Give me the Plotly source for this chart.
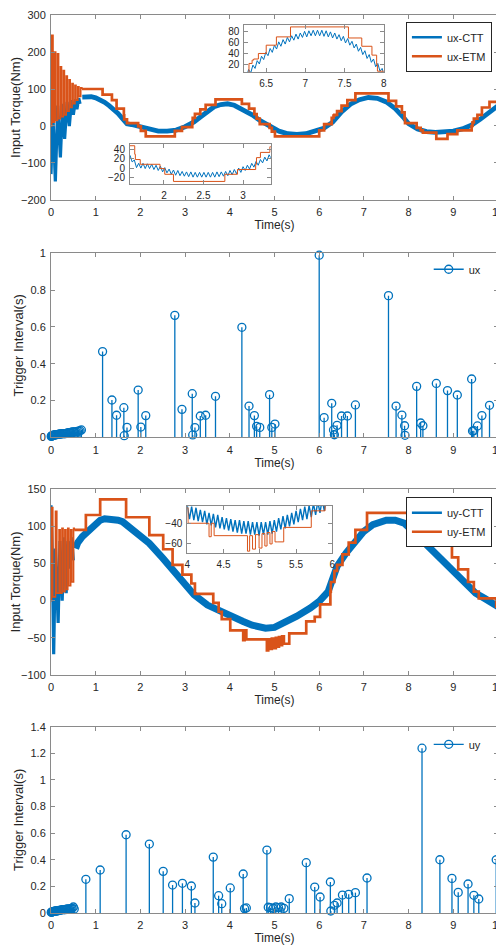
import numpy as np
import plotly.graph_objects as go

# ---------------- data ----------------
# Panel 1: ux input torque
ux_ctt_t = [0, 0.04, 0.097, 0.15, 0.21, 0.26, 0.305, 0.36, 0.41, 0.46,
            0.5, 0.55, 0.58, 0.62, 0.65, 0.7, 0.8, 0.9, 1.0, 1.1,
            1.2, 1.3, 1.4, 1.5, 1.6, 1.7, 1.8, 1.9, 2.0, 2.2,
            2.4, 2.6, 2.8, 3.0, 3.2, 3.35, 3.5, 3.65, 3.8, 3.95,
            4.1, 4.3, 4.5, 4.7, 4.9, 5.1, 5.3, 5.5, 5.7, 5.9,
            6.1, 6.3, 6.5, 6.7, 6.9, 7.1, 7.3, 7.5, 7.7, 7.9,
            8.0, 8.2, 8.4, 8.6, 8.8, 9.0, 9.2, 9.4, 9.6, 9.8, 10.0]
ux_ctt_v = [-130, 40, -150, 55, -85, 60, -35, 65, 0, 70,
            30, 72, 45, 75, 60, 78, 80, 79, 76, 71,
            64, 55, 45, 34, 20, 6, 4, 1, -4, -11,
            -14, -14, -11, -2, 11, 25, 40, 52, 58, 60,
            56, 44, 30, 13, -2, -14, -21, -23, -21, -15,
            -6, 10, 38, 59, 71, 77, 75, 65, 47, 21,
            6, -8, -15, -17, -17, -14, -8, 2, 18, 38, 55]
ux_etm_t = [0, 0.015, 0.045, 0.08, 0.105, 0.145, 0.17, 0.21, 0.235, 0.275,
            0.30, 0.34, 0.365, 0.405, 0.43, 0.47, 0.495, 0.535, 0.56, 0.60,
            0.625, 0.665, 0.69, 1.154,
            1.363, 1.467, 1.63, 1.638, 1.70, 1.95, 2.01, 2.12, 2.77, 2.93,
            3.16, 3.17, 3.22, 3.34, 3.46, 3.68, 4.27, 4.43, 4.55, 4.60,
            4.67, 4.89, 4.94, 5.01, 6.00, 6.11, 6.28, 6.32, 6.34, 6.40,
            6.50, 6.63, 6.81, 7.55, 7.72, 7.85, 7.91, 7.92, 8.18, 8.27,
            8.32, 8.62, 8.87, 9.09, 9.41, 9.43, 9.46, 9.54, 9.64, 9.81, 10.0]
ux_etm_v = [0, 245, 10, 200, 15, 195, 20, 160, 25, 150,
            30, 135, 40, 125, 50, 115, 60, 110, 70, 106,
            80, 103, 100, 85,
            70, 47, 29, 18, 8, -1, -13, -28, -13, -3,
            8, 22, 33, 45, 57, 72, 60, 47, 32, 20,
            5, -5, -15, -28, -12, 5, 22, 28, 30, 40,
            55, 70, 88, 68, 53, 37, 20, 8, -5, -12,
            -18, -35, -22, -12, 0, 10, 20, 30, 50, 65, 65]

# fine (zoomed) ux-CTT ripple shown in the two insets
ux_fine_a_t0, ux_fine_a_dt = 6.22, 0.0275
ux_fine_a = [3, -3, 11, 5, 19, 13, 27, 21, 35, 29,
             42, 36, 49, 42, 55, 48, 61, 53, 65, 57,
             69, 61, 72, 64, 75, 66, 77, 69, 80, 70,
             81, 72, 82, 72, 82, 72, 82, 71, 81, 70,
             79, 68, 77, 66, 74, 63, 71, 59, 67, 55,
             62, 50, 57, 44, 51, 38, 45, 31, 38, 24,
             30, 16, 22, 8, 13, -1]
ux_fine_b_t0, ux_fine_b_dt = 1.57, 0.0275
ux_fine_b = [27, 13, 17, 1, 10, 0, 10, -1, 9, -1,
             8, -3, 6, -5, 4, -8, 1, -10, -2, -13,
             -4, -15, -5, -16, -7, -17, -8, -18, -8, -19,
             -9, -19, -9, -19, -9, -19, -9, -19, -9, -19,
             -8, -18, -8, -17, -7, -16, -5, -14, -3, -12,
             0, -9, 3, -5, 6, -2, 10, 2, 14, 6,
             18, 11, 23, 15, 28, 20]

# Panel 2: ux trigger intervals
ux_early_t = [0.005, 0.012, 0.02, 0.03, 0.04, 0.05, 0.065, 0.08, 0.095, 0.11,
              0.125, 0.14, 0.16, 0.18, 0.2, 0.22, 0.24, 0.26, 0.28, 0.3,
              0.32, 0.345, 0.37, 0.395, 0.42, 0.445, 0.47, 0.5, 0.53, 0.56,
              0.59, 0.62, 0.65, 0.68]
ux_early_v = [0.005, 0.007, 0.008, 0.01, 0.01, 0.01, 0.012, 0.012, 0.014, 0.015,
              0.015, 0.015, 0.016, 0.017, 0.018, 0.018, 0.019, 0.02, 0.02, 0.02,
              0.02, 0.022, 0.024, 0.025, 0.025, 0.026, 0.03, 0.03, 0.03, 0.03,
              0.032, 0.034, 0.036, 0.04]
ux_trig_t = [1.154, 1.363, 1.467, 1.63, 1.638, 1.70, 1.95, 2.01, 2.12, 2.77,
             2.93, 3.16, 3.17, 3.22, 3.34, 3.46, 3.68, 4.27, 4.43, 4.55,
             4.60, 4.67, 4.89, 4.94, 5.01, 6.00, 6.11, 6.28, 6.32, 6.34,
             6.40, 6.50, 6.63, 6.81, 7.55, 7.72, 7.85, 7.91, 7.92, 8.18,
             8.27, 8.32, 8.62, 8.87, 9.09, 9.41, 9.43, 9.46, 9.54, 9.64, 9.81]
ux_trig_v = [0.466, 0.203, 0.12, 0.161, 0.009, 0.054, 0.257, 0.056, 0.118, 0.663,
             0.152, 0.237, 0.013, 0.053, 0.116, 0.12, 0.223, 0.598, 0.170, 0.118,
             0.06, 0.054, 0.232, 0.054, 0.072, 0.99, 0.107, 0.185, 0.04, 0.014,
             0.065, 0.116, 0.116, 0.176, 0.77, 0.17, 0.121, 0.063, 0.011, 0.277,
             0.078, 0.063, 0.293, 0.254, 0.23, 0.317, 0.034, 0.036, 0.062, 0.118, 0.174]

# Panel 3: uy input torque
uy_ctt_t = [0, 0.03, 0.06, 0.1, 0.16, 0.2, 0.25, 0.3, 0.34, 0.38,
            0.42, 0.46, 0.5, 0.55, 0.6, 0.7, 0.8, 0.9, 1.0, 1.1,
            1.2, 1.3, 1.4, 1.5, 1.6, 1.8, 2.0, 2.2, 2.5, 2.8,
            3.0, 3.2, 3.5, 3.8, 4.0, 4.3, 4.5, 4.8, 5.0, 5.3,
            5.5, 5.8, 6.0, 6.2, 6.3, 6.4, 6.6, 6.8, 7.0, 7.2,
            7.5, 7.7, 7.9, 8.1, 8.4, 8.7, 9.0, 9.3, 9.5, 9.7, 10.0]
uy_ctt_v = [128, 60, -72, 70, -30, 80, 0, 85, 10, 80,
            43, 85, 54, 70, 78, 86, 92, 99, 104, 108,
            110, 110, 110, 108, 106, 97, 88, 77, 57, 37,
            21, 8, -6, -15, -21, -28, -33, -37, -36, -28,
            -21, -10, -1, 12, 28, 46, 64, 79, 93, 102,
            108, 108, 104, 93, 75, 55, 37, 19, 10, 3, -8]
uy_etm_t = [0, 0.01, 0.04, 0.10, 0.13, 0.18, 0.205, 0.245, 0.27, 0.31,
            0.335, 0.375, 0.40, 0.44, 0.465, 0.505, 0.52, 0.78, 1.10,
            1.68, 2.20, 2.51, 2.72, 2.94, 3.14, 3.22, 3.63, 3.75, 3.82,
            4.01, 4.30, 4.33, 4.37, 4.83, 4.86, 4.90, 4.94, 4.99, 5.03,
            5.07, 5.10, 5.14, 5.17, 5.21, 5.24, 5.33, 5.71, 5.90, 6.02,
            6.25, 6.26, 6.34, 6.40, 6.52, 6.66, 6.81, 7.07, 8.30, 8.70,
            8.97, 9.11, 9.33, 9.46, 9.57, 9.96, 10.0]
uy_etm_v = [0, 125, 5, 120, 10, 95, 10, 97, 12, 95,
            15, 97, 20, 95, 25, 97, 95, 115, 136,
            112, 88, 69, 48, 35, 23, 9, -3, -15, -25,
            -40, -53, -40, -52, -67, -52, -65, -51, -64, -50,
            -62, -49, -60, -48, -58, -58, -44, -28, -22, -5,
            12, 25, 40, 48, 62, 78, 95, 118, 100, 75,
            58, 42, 25, 12, 3, -8, -8]
uy_fine_t0, uy_fine_dt = 4.0, 0.03
uy_fine = [-23, -36, -24, -37, -25, -38, -27, -39, -28, -41,
           -30, -42, -31, -44, -32, -45, -34, -46, -35, -47,
           -36, -48, -37, -49, -37, -50, -38, -50, -38, -51,
           -39, -51, -39, -52, -39, -51, -39, -51, -38, -50,
           -37, -48, -35, -46, -33, -45, -32, -43, -30, -41,
           -28, -39, -26, -37, -24, -36, -23, -34, -21, -32,
           -19, -30, -17, -28, -15]

# Panel 4: uy trigger intervals
uy_early_t = [0.005, 0.012, 0.02, 0.03, 0.04, 0.05, 0.065, 0.08, 0.095, 0.11,
              0.125, 0.14, 0.16, 0.18, 0.2, 0.22, 0.24, 0.26, 0.28, 0.3,
              0.32, 0.345, 0.37, 0.395, 0.42, 0.445, 0.47, 0.5, 0.52]
uy_early_v = [0.005, 0.006, 0.008, 0.01, 0.01, 0.011, 0.012, 0.013, 0.014, 0.015,
              0.015, 0.016, 0.018, 0.02, 0.02, 0.022, 0.024, 0.025, 0.025, 0.026,
              0.025, 0.028, 0.03, 0.028, 0.03, 0.032, 0.035, 0.045, 0.03]
uy_trig_t = [0.78, 1.10, 1.68, 2.20, 2.51, 2.72, 2.94, 3.14, 3.22, 3.63,
             3.75, 3.82, 4.01, 4.30, 4.33, 4.37, 4.83, 4.86, 4.91, 4.97,
             5.03, 5.09, 5.15, 5.21, 5.33, 5.71, 5.90, 6.02, 6.25, 6.26,
             6.34, 6.40, 6.52, 6.66, 6.81, 7.07, 8.30, 8.70, 8.97, 9.11,
             9.33, 9.46, 9.57, 9.96]
uy_trig_v = [0.253, 0.323, 0.588, 0.518, 0.313, 0.21, 0.223, 0.203, 0.075, 0.42,
             0.13, 0.07, 0.188, 0.293, 0.033, 0.038, 0.473, 0.043, 0.04, 0.035,
             0.045, 0.04, 0.045, 0.035, 0.108, 0.378, 0.195, 0.12, 0.233, 0.015,
             0.058, 0.075, 0.135, 0.14, 0.153, 0.263, 1.238, 0.40, 0.26, 0.155,
             0.218, 0.133, 0.105, 0.40]

# ---------------- styling ----------------
BLUE = '#0072BD'
ORANGE = '#D95319'
FONT = 'Liberation Sans, Arial, Helvetica, sans-serif'
AXC = '#8a8a8a'
TXT = '#262626'
T_SETTLE_X = 0.69   # end of the initial transient (ux)
T_SETTLE_Y = 0.52   # end of the initial transient (uy)

fig = go.Figure()


def grid(t0, dt, vals):
    return list(t0 + dt * np.arange(len(vals)))


def split(t, v, tcut):
    a = [i for i, x in enumerate(t) if x <= tcut]
    b = [i for i, x in enumerate(t) if x >= tcut]
    return ([t[i] for i in a], [v[i] for i in a]), ([t[i] for i in b], [v[i] for i in b])


def line(t, v, xa, ya, color, width, shape='linear'):
    fig.add_trace(go.Scatter(x=t, y=v, mode='lines', xaxis=xa, yaxis=ya,
                             line=dict(color=color, width=width, shape=shape),
                             showlegend=False, hoverinfo='skip'))


def stem(xa, ya, t, v, leg, name):
    xs, ys = [], []
    for a, b in zip(t, v):
        xs += [a, a, None]
        ys += [0, b, None]
    fig.add_trace(go.Scatter(x=xs, y=ys, mode='lines', xaxis=xa, yaxis=ya,
                             line=dict(color=BLUE, width=1.3), showlegend=False,
                             hoverinfo='skip'))
    fig.add_trace(go.Scatter(x=t, y=v, mode='markers', xaxis=xa, yaxis=ya,
                             marker=dict(symbol='circle-open', size=8, color=BLUE,
                                         line=dict(width=1.3, color=BLUE)),
                             cliponaxis=False, showlegend=False))
    fig.add_trace(go.Scatter(x=[None], y=[None], mode='lines+markers', name=name,
                             xaxis=xa, yaxis=ya, legend=leg,
                             line=dict(color=BLUE, width=1.3),
                             marker=dict(symbol='circle-open', size=8, color=BLUE,
                                         line=dict(width=1.3, color=BLUE))))


def legend_line(name, color, xa, ya, leg):
    fig.add_trace(go.Scatter(x=[None], y=[None], mode='lines', name=name, xaxis=xa, yaxis=ya,
                             line=dict(color=color, width=2.7), legend=leg))


# Panel 1
(bt, bv), (bt2, bv2) = split(ux_ctt_t, ux_ctt_v, T_SETTLE_X)
line(bt, bv, 'x', 'y', BLUE, 3.2)
line(bt2, bv2, 'x', 'y', BLUE, 4.8)
(ot, ov), (ot2, ov2) = split(ux_etm_t, ux_etm_v, T_SETTLE_X)
line(ot, ov, 'x', 'y', ORANGE, 1.6, 'hv')
line(ot2, ov2, 'x', 'y', ORANGE, 2.7, 'hv')
legend_line('ux-CTT', BLUE, 'x', 'y', 'legend')
legend_line('ux-ETM', ORANGE, 'x', 'y', 'legend')

# Panel 1 insets
line(grid(ux_fine_a_t0, ux_fine_a_dt, ux_fine_a), ux_fine_a, 'x5', 'y5', BLUE, 1)
line(ux_etm_t, ux_etm_v, 'x5', 'y5', ORANGE, 1, 'hv')
line(grid(ux_fine_b_t0, ux_fine_b_dt, ux_fine_b), ux_fine_b, 'x6', 'y6', BLUE, 1)
line(ux_etm_t, ux_etm_v, 'x6', 'y6', ORANGE, 1, 'hv')

# Panel 2
stem('x2', 'y2', ux_early_t + ux_trig_t, ux_early_v + ux_trig_v, 'legend2', 'ux')

# Panel 3
(bt, bv), (bt2, bv2) = split(uy_ctt_t, uy_ctt_v, T_SETTLE_Y)
line(bt, bv, 'x3', 'y3', BLUE, 3.2)
line(bt2, bv2, 'x3', 'y3', BLUE, 7)
(ot, ov), (ot2, ov2) = split(uy_etm_t, uy_etm_v, T_SETTLE_Y)
line(ot, ov, 'x3', 'y3', ORANGE, 1.6, 'hv')
line(ot2, ov2, 'x3', 'y3', ORANGE, 2.7, 'hv')
legend_line('uy-CTT', BLUE, 'x3', 'y3', 'legend3')
legend_line('uy-ETM', ORANGE, 'x3', 'y3', 'legend3')
line(grid(uy_fine_t0, uy_fine_dt, uy_fine), uy_fine, 'x7', 'y7', BLUE, 1.4)
line(uy_etm_t, uy_etm_v, 'x7', 'y7', ORANGE, 1, 'hv')

# Panel 4
stem('x4', 'y4', uy_early_t + uy_trig_t, uy_early_v + uy_trig_v, 'legend4', 'uy')


def axis(dom, anchor, rng, title=None, dtick=None, tickvals=None, fs=11, ts=12, standoff=None):
    d = dict(domain=dom, anchor=anchor, range=rng, showline=True, linecolor=AXC, linewidth=1,
             mirror='ticks', ticks='inside', ticklen=4, tickcolor=AXC, showgrid=False,
             zeroline=False, automargin=False, ticklabelstandoff=2,
             ticklabeloverflow='allow',
             tickfont=dict(size=fs, color=TXT, family=FONT))
    if dtick is not None:
        d['dtick'] = dtick
    if tickvals is not None:
        d['tickvals'] = tickvals
    if title:
        d['title'] = dict(text=title, font=dict(size=ts, color=TXT, family=FONT))
        if standoff is not None:
            d['title']['standoff'] = standoff
    return d


D1 = [0.794, 1.0]
D2 = [0.5297, 0.7346]
D3 = [0.265, 0.4722]
D4 = [0.0, 0.2075]

LEGFONT = dict(size=11, color=TXT, family=FONT)

# the page body adds an 8px offset, so the figure is sized to fit the 504x947 window
lay = dict(
    width=496, height=939,
    margin=dict(l=43, r=6, t=7, b=34),
    paper_bgcolor='white', plot_bgcolor='white',
    font=dict(family=FONT, color=TXT),
    xaxis=axis([0, 1], 'y', [0, 10], 'Time(s)', dtick=1, standoff=2),
    yaxis=axis(D1, 'x', [-200, 300], 'Input Torque(Nm)', dtick=100, ts=13, standoff=2),
    xaxis2=axis([0, 1], 'y2', [0, 10], 'Time(s)', dtick=1, standoff=2),
    yaxis2=axis(D2, 'x2', [0, 1], 'Trigger Interval(s)', dtick=0.2, ts=13, standoff=3),
    xaxis3=axis([0, 1], 'y3', [0, 10], 'Time(s)', dtick=1, standoff=2),
    yaxis3=axis(D3, 'x3', [-100, 150], 'Input Torque(Nm)', dtick=50, ts=13, standoff=3),
    xaxis4=axis([0, 1], 'y4', [0, 10], 'Time(s)', dtick=1, standoff=2),
    yaxis4=axis(D4, 'x4', [0, 1.4], 'Trigger Interval(s)', dtick=0.2, ts=13, standoff=3),
    xaxis5=axis([0.4324, 0.7443], 'y5', [6.22, 8], tickvals=[6.5, 7, 7.5, 8], fs=10),
    yaxis5=axis([0.9362, 0.9892], 'x5', [6, 92], tickvals=[20, 40, 60, 80], fs=10),
    xaxis6=axis([0.1767, 0.4915], 'y6', [1.57, 3.35], tickvals=[2, 2.5, 3], fs=10),
    yaxis6=axis([0.8115, 0.8560], 'x6', [-34, 50], tickvals=[-20, 0, 20, 40], fs=10),
    xaxis7=axis([0.3049, 0.6293], 'y7', [4, 6], tickvals=[4, 4.5, 5, 5.5, 6], fs=10),
    yaxis7=axis([0.4006, 0.4536], 'x7', [-69, -23], tickvals=[-60, -40], fs=10),
    legend=dict(x=0.794, y=0.9925, xanchor='left', yanchor='top', bgcolor='white',
                bordercolor=TXT, borderwidth=1, font=LEGFONT, tracegroupgap=0,
                itemwidth=30, entrywidth=50, entrywidthmode='pixels'),
    legend2=dict(x=0.845, y=0.733, xanchor='left', yanchor='top', bgcolor='rgba(0,0,0,0)',
                 borderwidth=0, font=LEGFONT, itemwidth=30),
    legend3=dict(x=0.794, y=0.463, xanchor='left', yanchor='top', bgcolor='white',
                 bordercolor=TXT, borderwidth=1, font=LEGFONT, tracegroupgap=0,
                 itemwidth=30, entrywidth=44, entrywidthmode='pixels'),
    legend4=dict(x=0.845, y=0.204, xanchor='left', yanchor='top', bgcolor='rgba(0,0,0,0)',
                 borderwidth=0, font=LEGFONT, itemwidth=30),
    shapes=[
        dict(type='rect', xref='x5', yref='y5', x0=6.22, x1=8, y0=6, y1=92,
             fillcolor='white', line=dict(width=0), layer='below'),
        dict(type='rect', xref='x6', yref='y6', x0=1.57, x1=3.35, y0=-34, y1=50,
             fillcolor='white', line=dict(width=0), layer='below'),
        dict(type='rect', xref='x7', yref='y7', x0=4, x1=6, y0=-69, y1=-23,
             fillcolor='white', line=dict(width=0), layer='below'),
    ],
)
fig.update_layout(**lay)
fig.write_html("out.html")
